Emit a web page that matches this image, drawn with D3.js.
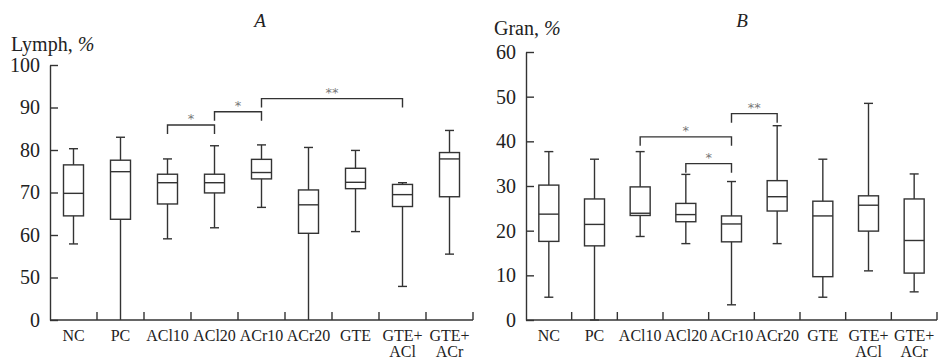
<!DOCTYPE html>
<html>
<head>
<meta charset="utf-8">
<script src="https://cdn.jsdelivr.net/npm/d3@7"></script>
<style>
  body { margin: 0; background: #fff; }
  svg { display: block; font-family: "Liberation Serif", "DejaVu Serif", serif; }
</style>
</head>
<body>
<svg id="chart" width="938" height="360"></svg>
<script>
const categories = ["NC", "PC", "ACl10", "ACl20", "ACr10", "ACr20", "GTE", "GTE+\nACl", "GTE+\nACr"];

// lymph: [whisker low, q1, median, q3, whisker high]
const lymphLow = [57.9, 0, 59.1, 61.7, 66.5, 0, 60.8, 47.9, 55.5];
const lymphQ1 = [64.5, 63.7, 67.3, 69.9, 73.2, 60.4, 70.9, 66.7, 69.0];
const lymphMed = [69.8, 74.9, 72.3, 72.3, 74.7, 67.1, 72.4, 69.5, 77.9];
const lymphQ3 = [76.5, 77.6, 74.3, 74.3, 77.8, 70.6, 75.7, 71.9, 79.4];
const lymphHigh = [80.3, 83.0, 77.9, 81.0, 81.2, 80.6, 79.9, 72.3, 84.6];

const granLow = [5.1, 0, 18.7, 17.1, 3.4, 17.1, 5.1, 11.0, 6.3];
const granQ1 = [17.6, 16.6, 23.4, 22.0, 17.5, 24.4, 9.7, 19.9, 10.5];
const granMed = [23.7, 21.4, 23.9, 23.6, 21.5, 27.6, 23.3, 25.7, 17.8];
const granQ3 = [30.2, 27.1, 29.8, 26.1, 23.3, 31.2, 26.6, 27.8, 27.1];
const granHigh = [37.7, 36.0, 37.7, 32.6, 31.0, 43.5, 36.0, 48.5, 32.7];

// axis ticks (lymph axis is broken: 0 sits where 40 would be)
const lymphTicks = [40, 50, 60, 70, 80, 90, 100];
const lymphTickLabels = ["0", "50", "60", "70", "80", "90", "100"];
const granTicks = [0, 10, 20, 30, 40, 50, 60];
const granTickLabels = ["0", "10", "20", "30", "40", "50", "60"];

// significance brackets: [from, to, level(value), label]
const lymphSig = [["ACl10", "ACl20", 85.9, "*"], ["ACl20", "ACr10", 89.0, "*"], ["ACr10", "GTE+\nACl", 92.1, "**"]];
const granSig = [["ACl10", "ACr10", 41.0, "*"], ["ACl20", "ACr10", 35.0, "*"], ["ACr10", "ACr20", 46.2, "**"]];

const svg = d3.select("#chart");
const ink = "#333";

function drawPanel(p) {
    var x = d3.scaleBand().domain(categories).range([p.x0, p.x1]).padding(0);
    var y = d3.scaleLinear().domain(p.domain).range([320, p.top]).clamp(true);
    var g = svg.append("g");

    // y axis
    var yAxis = d3.axisLeft(y).tickValues(p.ticks).tickSizeInner(-8).tickSizeOuter(0).tickPadding(10)
        .tickFormat(function(d, i) { return p.tickLabels[i]; });
    var ya = g.append("g").attr("transform", "translate(" + p.x0 + ",0)").call(yAxis);
    ya.select(".domain").attr("stroke", ink).attr("stroke-width", 1.4);
    ya.selectAll(".tick line").attr("stroke", ink).attr("stroke-width", 1.4);
    ya.selectAll(".tick text").attr("font-size", 20).attr("fill", "#222").attr("font-family", "Liberation Serif");

    // x axis
    g.append("line").attr("x1", p.x0).attr("x2", p.x1).attr("y1", 320).attr("y2", 320)
        .attr("stroke", ink).attr("stroke-width", 1.4);
    g.selectAll(".xtick").data(categories).enter().append("line")
        .attr("x1", function(d) { return x(d) + x.bandwidth(); })
        .attr("x2", function(d) { return x(d) + x.bandwidth(); })
        .attr("y1", 320).attr("y2", 312)
        .attr("stroke", ink).attr("stroke-width", 1.4);
    var lab = g.selectAll(".xlab").data(categories).enter().append("text")
        .attr("text-anchor", "middle").attr("font-size", 16).attr("fill", "#222")
        .attr("x", function(d) { return x(d) + x.bandwidth() / 2; })
        .attr("y", 341);
    lab.each(function(d) {
        var parts = d.split("\n");
        var t = d3.select(this);
        parts.forEach(function(s, i) {
            t.append("tspan").attr("x", x(d) + x.bandwidth() / 2).attr("dy", i == 0 ? 0 : 16).text(s);
        });
    });

    // boxes
    var bw = 20, cw = 9;
    var boxes = g.selectAll(".box").data(categories).enter().append("g")
        .attr("transform", function(d) { return "translate(" + (x(d) + x.bandwidth() / 2) + ",0)"; });
    boxes.append("line").attr("x1", 0).attr("x2", 0)
        .attr("y1", function(d, i) { return y(p.high[i]); })
        .attr("y2", function(d, i) { return y(p.low[i]); })
        .attr("stroke", ink).attr("stroke-width", 1.4);
    boxes.append("line").attr("x1", -cw / 2).attr("x2", cw / 2)
        .attr("y1", function(d, i) { return y(p.high[i]); })
        .attr("y2", function(d, i) { return y(p.high[i]); })
        .attr("stroke", ink).attr("stroke-width", 1.4);
    boxes.append("line").attr("x1", -cw / 2).attr("x2", cw / 2)
        .attr("y1", function(d, i) { return y(p.low[i]); })
        .attr("y2", function(d, i) { return y(p.low[i]); })
        .attr("stroke", function(d, i) { return p.low[i] < p.domain[0] ? "none" : ink; })
        .attr("stroke-width", 1.4);
    boxes.append("rect").attr("x", -bw / 2).attr("width", bw)
        .attr("y", function(d, i) { return y(p.q3[i]); })
        .attr("height", function(d, i) { return y(p.q1[i]) - y(p.q3[i]); })
        .attr("fill", "#fff").attr("stroke", ink).attr("stroke-width", 1.4);
    boxes.append("line").attr("x1", -bw / 2).attr("x2", bw / 2)
        .attr("y1", function(d, i) { return y(p.med[i]); })
        .attr("y2", function(d, i) { return y(p.med[i]); })
        .attr("stroke", ink).attr("stroke-width", 1.4);

    // brackets
    p.sig.forEach(function(s) {
        var xa = x(s[0]) + x.bandwidth() / 2, xb = x(s[1]) + x.bandwidth() / 2, yy = y(s[2]);
        g.append("path").attr("d", "M" + xa + "," + (yy + 9) + "V" + yy + "H" + xb + "V" + (yy + 9))
            .attr("fill", "none").attr("stroke", ink).attr("stroke-width", 1.4);
        g.append("text").attr("x", (xa + xb) / 2).attr("y", yy - 2).attr("text-anchor", "middle")
            .attr("font-size", 13).attr("fill", "#777").attr("font-family", "DejaVu Sans").text(s[3]);
    });

    // titles
    g.append("text").attr("x", p.titleX).attr("y", 27).attr("text-anchor", "middle")
        .attr("font-size", 19).attr("font-style", "italic").attr("fill", "#222").text(p.title);
    var yl = g.append("text").attr("x", p.labelX).attr("y", p.labelY).attr("font-size", 20).attr("fill", "#222");
    yl.append("tspan").text(p.label + ", ");
    yl.append("tspan").attr("font-style", "italic").text("%");
}

drawPanel({
    x0: 50, x1: 473, top: 65, domain: [40, 100],
    ticks: lymphTicks, tickLabels: lymphTickLabels,
    low: lymphLow, q1: lymphQ1, med: lymphMed, q3: lymphQ3, high: lymphHigh,
    sig: lymphSig, title: "A", titleX: 260, label: "Lymph", labelX: 11, labelY: 51
});
drawPanel({
    x0: 526, x1: 937, top: 52, domain: [0, 60],
    ticks: granTicks, tickLabels: granTickLabels,
    low: granLow, q1: granQ1, med: granMed, q3: granQ3, high: granHigh,
    sig: granSig, title: "B", titleX: 742, label: "Gran", labelX: 494, labelY: 35
});
</script>
</body>
</html>
